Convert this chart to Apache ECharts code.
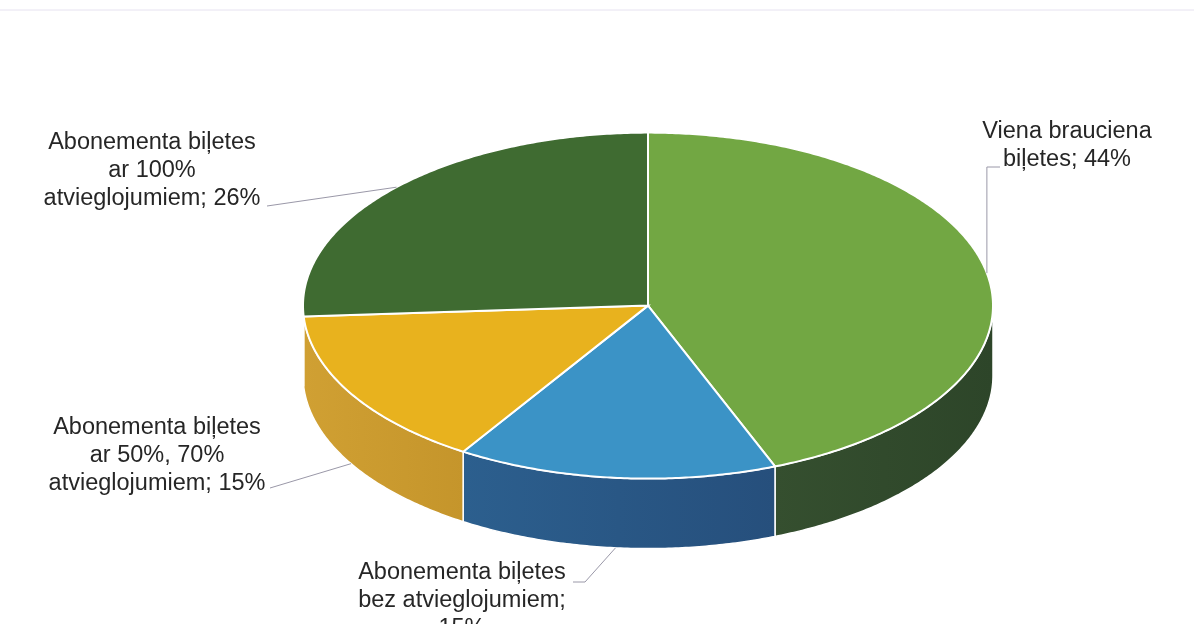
<!DOCTYPE html>
<html>
<head>
<meta charset="utf-8">
<script src="https://cdn.jsdelivr.net/npm/echarts@6/dist/echarts.min.js"></script>
<style>
  html, body { margin: 0; padding: 0; background: #fff; }
  #chart { width: 1194px; height: 624px; }
</style>
</head>
<body>
<div id="chart"></div>
<script>
// --- data ---
var categories = [
  'Viena brauciena biļetes',
  'Abonementa biļetes bez atvieglojumiem',
  'Abonementa biļetes ar 50%, 70% atvieglojumiem',
  'Abonementa biļetes ar 100% atvieglojumiem'
];
var values = [44, 15, 15, 26];
var labelLines = [
  ['Viena brauciena', 'biļetes; 44%'],
  ['Abonementa biļetes', 'bez atvieglojumiem;', '15%'],
  ['Abonementa biļetes', 'ar 50%, 70%', 'atvieglojumiem; 15%'],
  ['Abonementa biļetes', 'ar 100%', 'atvieglojumiem; 26%']
];

// --- look ---
var topColors = ['#72a743', '#3b93c6', '#e8b21e', '#3f6b31'];
var sideColors = [
  ['#354f2f', '#2d4529'],
  ['#2c5f8e', '#264f7c'],
  ['#d0a033', '#c5952b'],
  ['#34552c', '#2f4d28']
];
// 椭圆饼的几何参数
var pie = { cx: 648, cy: 305.6, rx: 345, ry: 173, depth: 70 };
// 标签位置和引线折点
var labelPos = [
  { x: 1067, y: 118, elbowY: 167, tail: [[1000, 167]] },
  { x: 462, y: 559, tail: [[585, 582], [573, 582]] },
  { x: 157, y: 414, tail: [[270, 488]] },
  { x: 152, y: 129, tail: [[267, 206]] }
];

var total = values.reduce(function (a, b) { return a + b; }, 0);

function pt(a, dy) {
  return [pie.cx + pie.rx * Math.sin(a), pie.cy - pie.ry * Math.cos(a) + (dy || 0)];
}

function arc(a0, a1, dy) {
  var pts = [];
  var n = Math.max(2, Math.ceil((a1 - a0) / 0.01));
  for (var i = 0; i <= n; i++) {
    pts.push(pt(a0 + (a1 - a0) * i / n, dy));
  }
  return pts;
}

function renderSlice(params, api) {
  var idx = params.dataIndex;
  var before = 0;
  for (var i = 0; i < idx; i++) before += values[i];
  var a0 = before / total * Math.PI * 2;
  var a1 = (before + api.value(0)) / total * Math.PI * 2;
  var children = [];

  // 侧面（只画前半圈）
  var s = Math.max(a0, Math.PI / 2);
  var e = Math.min(a1, Math.PI * 1.5);
  if (e > s) {
    var pts = arc(s, e, 0).concat(arc(s, e, pie.depth).reverse());
    children.push({
      type: 'polygon',
      shape: { points: pts },
      style: {
        fill: new echarts.graphic.LinearGradient(0, 0, 1, 0, [
          { offset: 0, color: sideColors[idx][0] },
          { offset: 1, color: sideColors[idx][1] }
        ]),
        stroke: '#fff',
        lineWidth: 1.5
      }
    });
  }

  // 顶面
  children.push({
    type: 'polygon',
    shape: { points: [[pie.cx, pie.cy]].concat(arc(a0, a1, 0)) },
    style: { fill: topColors[idx], stroke: '#fff', lineWidth: 2 }
  });

  // 引线
  var mid = (a0 + a1) / 2;
  var anchor = pt(mid, Math.cos(mid) < 0 ? pie.depth : 0);
  var lp = labelPos[idx];
  var line = [anchor];
  if (lp.elbowY != null) line.push([anchor[0], lp.elbowY]);
  line = line.concat(lp.tail);
  children.push({
    type: 'polyline',
    shape: { points: line },
    style: { fill: null, stroke: '#9a98a8', lineWidth: 1 }
  });

  // 标签
  children.push({
    type: 'text',
    style: {
      text: labelLines[idx].join('\n'),
      x: lp.x,
      y: lp.y,
      align: 'center',
      verticalAlign: 'top',
      lineHeight: 28,
      fontSize: 23.5,
      fontFamily: '"Liberation Sans", Arial, sans-serif',
      fill: '#262626'
    }
  });

  return { type: 'group', children: children };
}

var chart = echarts.init(document.getElementById('chart'), null, { renderer: 'canvas' });
chart.setOption({
  backgroundColor: '#fff',
  animation: false,
  graphic: [{
    type: 'line',
    shape: { x1: 0, y1: 10, x2: 1194, y2: 10 },
    style: { stroke: '#e6e2f0', lineWidth: 1 }
  }],
  series: [{
    type: 'custom',
    coordinateSystem: 'none',
    renderItem: renderSlice,
    data: values.map(function (v, i) { return { name: categories[i], value: v }; })
  }]
});
</script>
</body>
</html>
